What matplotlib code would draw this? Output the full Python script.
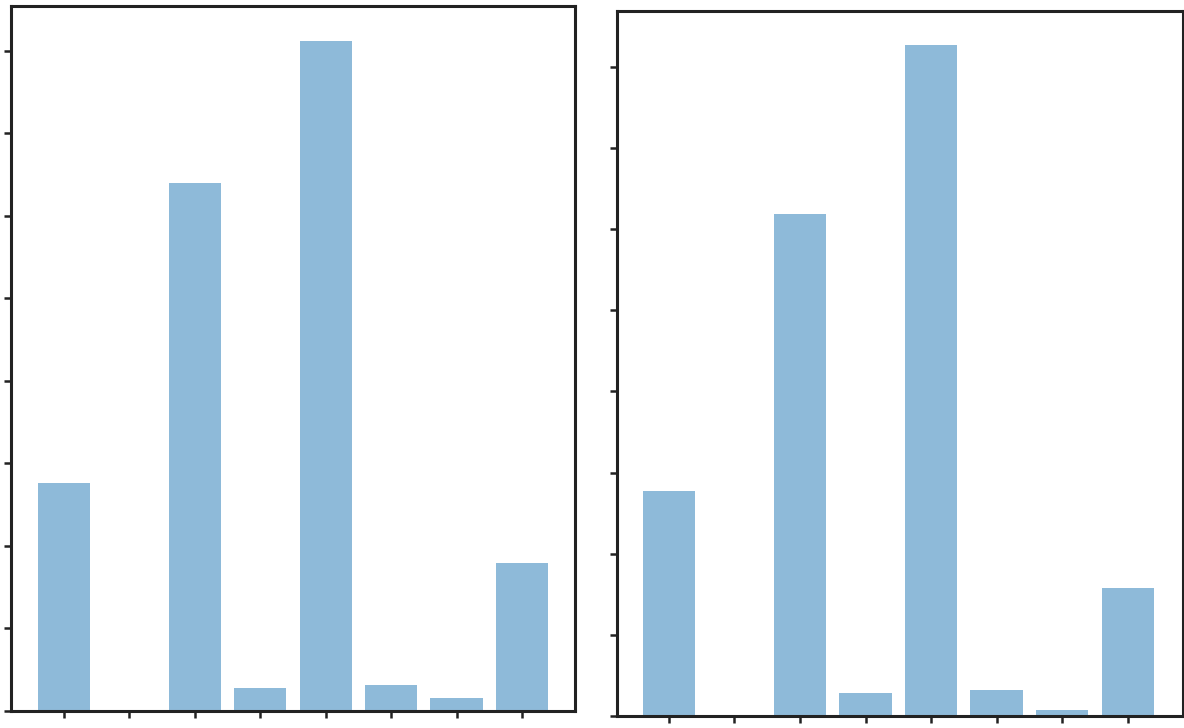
import numpy as np
import matplotlib
matplotlib.use("Agg")
import matplotlib.pyplot as plt

# category positions and bar heights for the two panels
categories = list(range(8))
left_values = [2.76, 0.0, 6.40, 0.28, 8.11, 0.31, 0.16, 1.79]
right_values = [2.77, 0.0, 6.19, 0.28, 8.27, 0.32, 0.07, 1.58]
y_ticks = list(range(9))

fig = plt.figure(figsize=(11.84, 7.28), dpi=100)
ax1 = fig.add_axes([0.0093, 0.0234, 0.4764, 0.9684])
ax2 = fig.add_axes([0.5211, 0.0165, 0.4780, 0.9684])

panels = [
    (ax1, left_values, (-0.81, 7.81), 8.54),
    (ax2, right_values, (-0.79, 7.84), 8.69),
]

for ax, values, xlim, ytop in panels:
    ax.bar(categories, values, width=0.8, color="tab:blue", alpha=0.5)
    ax.set_xlim(*xlim)
    ax.set_ylim(0, ytop)
    ax.set_xticks(categories)
    ax.set_yticks(y_ticks)
    ax.tick_params(labelleft=False, labelbottom=False, length=5, width=1.8,
                   color="#222222", direction="out")
    for sp in ax.spines.values():
        sp.set_linewidth(2.2)
        sp.set_color("#222222")

fig.savefig("out.png", dpi=100)
